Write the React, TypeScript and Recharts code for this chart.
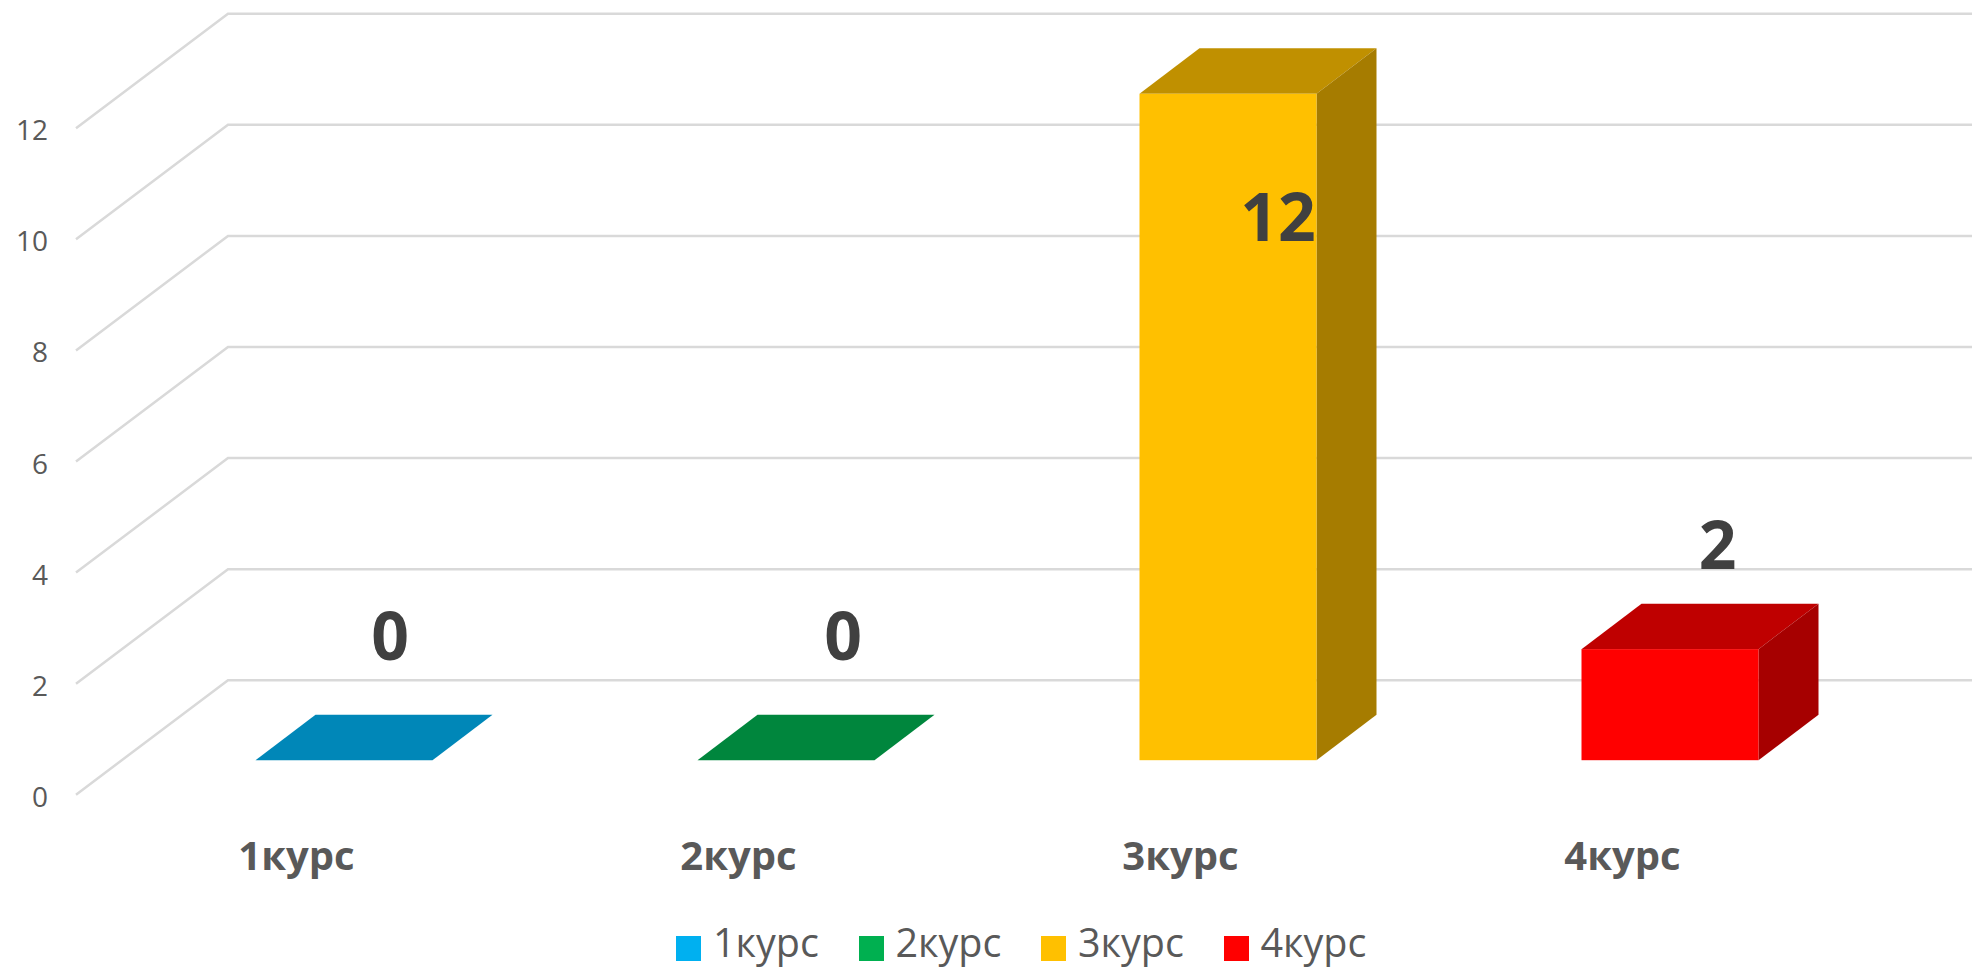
import { BarChart, Bar, XAxis, YAxis, Legend, LabelList, CartesianGrid } from "recharts";

const categories = ["1курс", "2курс", "3курс", "4курс"];
const values = [0, 0, 12, 2];
const yTicks = [0, 2, 4, 6, 8, 10, 12];

const frontColors = ["#00B0F0", "#00B050", "#FFC000", "#FF0000"];
const topColors = ["#0087B8", "#00863D", "#C09000", "#BF0000"];
const sideColors = ["#0074A0", "#007335", "#A67C00", "#A60000"];

const chartData = categories.map((name, i) => ({ name, value: values[i] }));

const FONT = "'Open Sans', sans-serif";
const GRID = "#D9D9D9";

// depth of the fake 3D box, and of the floor behind it
const BOX_DX = 60;
const BOX_DY = 45.5;
const FLOOR_FRONT_DY = 34.5;
const FLOOR_BACK_DY = 80;

// the value labels were dragged by hand in the original
const labelOffsets = [
  { dx: 46, dy: -100 },
  { dx: 57, dy: -100 },
  { dx: 50, dy: 147.5 },
  { dx: 47.5, dy: -80 },
];

const Box = (props: any) => {
  const { x, y, width, height, index } = props;
  const r = x + width;
  const b = y + height;
  return (
    <g>
      <polygon
        points={`${x},${y} ${x + BOX_DX},${y - BOX_DY} ${r + BOX_DX},${y - BOX_DY} ${r},${y}`}
        fill={topColors[index]}
      />
      {height > 0 && (
        <>
          <polygon
            points={`${r},${y} ${r + BOX_DX},${y - BOX_DY} ${r + BOX_DX},${b - BOX_DY} ${r},${b}`}
            fill={sideColors[index]}
          />
          <rect x={x} y={y} width={width} height={height} fill={frontColors[index]} />
        </>
      )}
    </g>
  );
};

// back wall line plus the floor diagonal; grid sits under the bars, axis ticks don't
const WallLine = ({ y1 }: any) => (
  <polyline
    key={y1}
    points={`76,${y1 + FLOOR_FRONT_DY} 228,${y1 - FLOOR_BACK_DY} 1972,${y1 - FLOOR_BACK_DY}`}
    fill="none"
    stroke={GRID}
    strokeWidth={2.5}
  />
);

const ValueTick = ({ y, payload }: any) => (
  <text
    x={48}
    y={y + FLOOR_FRONT_DY + 12}
    textAnchor="end"
    fontFamily={FONT}
    fontSize={28}
    fill="#595959"
  >
    {payload.value}
  </text>
);

const CategoryTick = ({ x, payload }: any) => (
  <text
    x={x - 47}
    y={870}
    textAnchor="middle"
    fontFamily={FONT}
    fontSize={40}
    fontWeight={700}
    fill="#595959"
  >
    {payload.value}
  </text>
);

const ValueLabel = ({ x, y, width, value, index }: any) => (
  <text
    x={x + width / 2 + labelOffsets[index].dx}
    y={y + labelOffsets[index].dy}
    textAnchor="middle"
    fontFamily={FONT}
    fontSize={66}
    fontWeight={700}
    fill="#404040"
  >
    {value}
  </text>
);

const LegendRow = () => (
  <div style={{ display: "flex", paddingLeft: 676, height: 48, fontFamily: FONT }}>
    {categories.map((name, i) => (
      <div key={name} style={{ width: 182.5, display: "flex", alignItems: "center", gap: 12 }}>
        <span style={{ width: 25, height: 25, marginTop: 8, background: frontColors[i], display: "inline-block" }} />
        <span style={{ fontSize: 39.5, lineHeight: "36px", marginTop: -4, color: "#595959" }}>{name}</span>
      </div>
    ))}
  </div>
);

export default function App() {
  return (
    <div style={{ position: "absolute", left: 0, top: 0, width: 1972, height: 968, background: "#fff" }}>
      <BarChart
        width={1972}
        height={968}
        data={chartData}
        margin={{ top: 93.8, right: 81.5, bottom: 0, left: 0 }}
      >
        <CartesianGrid vertical={false} horizontal={(p: any) => <WallLine {...p} />} />
        <YAxis
          width={122.5}
          domain={[0, 12]}
          ticks={yTicks}
          interval={0}
          axisLine={false}
          tickLine={false}
          tick={<ValueTick />}
        />
        <XAxis
          dataKey="name"
          height={159.8}
          interval={0}
          axisLine={false}
          tickLine={false}
          tick={<CategoryTick />}
        />
        <Legend
          verticalAlign="bottom"
          height={48}
          content={<LegendRow />}
          wrapperStyle={{ left: 0, width: 1972 }}
        />
        <Bar dataKey="value" barSize={177} shape={<Box />} isAnimationActive={false}>
          <LabelList dataKey="value" content={<ValueLabel />} />
        </Bar>
      </BarChart>
    </div>
  );
}
